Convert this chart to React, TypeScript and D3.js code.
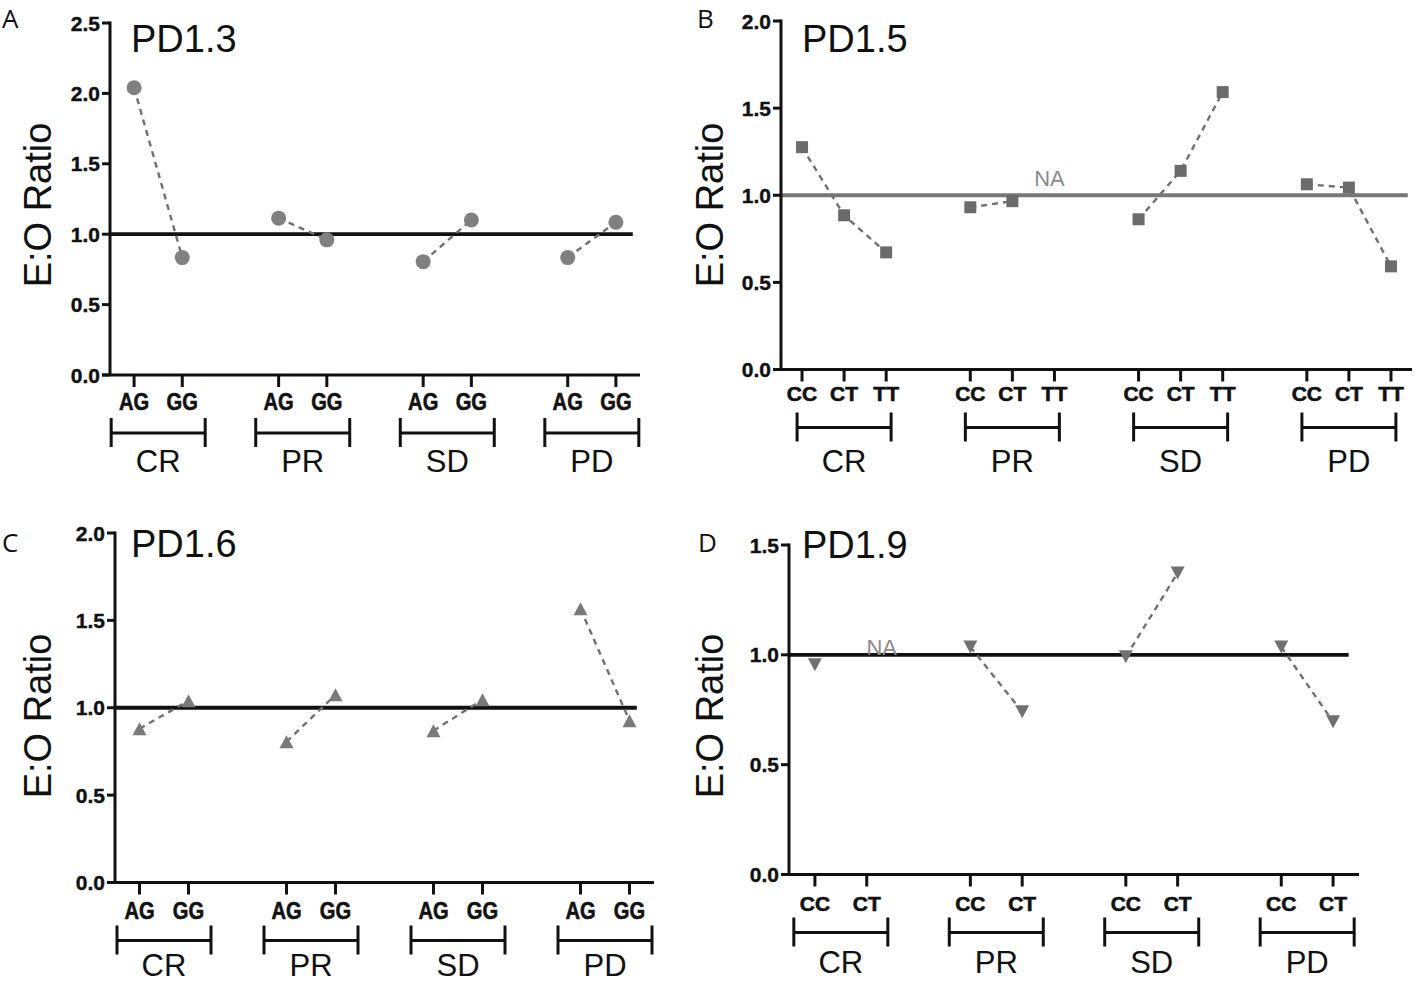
import * as d3 from "d3";

// categories
const groups = ["CR", "PR", "SD", "PD"];
const genotypesAG = ["AG", "GG"];
const genotypesCCT = ["CC", "CT", "TT"];
const genotypesCC = ["CC", "CT"];

// E:O ratio per group (rows) and genotype (columns); null = NA
const pd13Values = [[2.04, 0.834], [1.114, 0.96], [0.805, 1.101], [0.834, 1.085]];
const pd15Values = [[1.276, 0.885, 0.672], [0.931, 0.966, null], [0.862, 1.14, 1.592], [1.063, 1.044, 0.592]];
const pd16Values = [[0.88, 1.04], [0.806, 1.074], [0.869, 1.046], [1.566, 0.926]];
const pd19Values = [[0.955, null], [1.036, 0.741], [0.991, 1.373], [1.036, 0.695]];

// y tick values
const ticksTo25 = [0, 0.5, 1, 1.5, 2, 2.5];
const ticksTo20 = [0, 0.5, 1, 1.5, 2];
const ticksTo15 = [0, 0.5, 1, 1.5];

// NA positions (group index, genotype index)
const naB = [1, 2];
const naD = [0, 1];

type Marker = "circle" | "square" | "triUp" | "triDown";

const PANELS = [
  {
    letter: "A", title: "PD1.3", genotypes: genotypesAG, values: pd13Values, ticks: ticksTo25, marker: "circle" as Marker,
    na: null as number[] | null,
    lay: { left: 110, right: 640, top: 23, bottom: 375, letterX: 2, letterY: 28, titleX: 131, titleY: 52, yLabX: 51, yLabY: 205, refEnd: 10.35, refColor: "#111", naDx: 0, naDy: 0, tickFont: 24, tickSx: 0.84, tickDy: 35, groupDy: 97 },
  },
  {
    letter: "B", title: "PD1.5", genotypes: genotypesCCT, values: pd15Values, ticks: ticksTo20, marker: "square" as Marker,
    na: naB,
    lay: { left: 781, right: 1412, top: 21, bottom: 369.5, letterX: 697, letterY: 28, titleX: 802, titleY: 52, yLabX: 723, yLabY: 205, refEnd: 14.4, refColor: "#777", naDx: -5, naDy: -9, tickFont: 21, tickSx: 1.0, tickDy: 31, groupDy: 102 },
  },
  {
    letter: "C", title: "PD1.6", genotypes: genotypesAG, values: pd16Values, ticks: ticksTo20, marker: "triUp" as Marker,
    na: null as number[] | null,
    lay: { left: 115, right: 654, top: 533, bottom: 882.5, letterX: 2, letterY: 552, titleX: 131, titleY: 557, yLabX: 51, yLabY: 716, refEnd: 10.15, refColor: "#111", naDx: 0, naDy: 0, tickFont: 24, tickSx: 0.84, tickDy: 36, groupDy: 93 },
  },
  {
    letter: "D", title: "PD1.9", genotypes: genotypesCC, values: pd19Values, ticks: ticksTo15, marker: "triDown" as Marker,
    na: naD,
    lay: { left: 789, right: 1359, top: 545, bottom: 874.5, letterX: 698, letterY: 552, titleX: 802, titleY: 558, yLabX: 723, yLabY: 716, refEnd: 10.3, refColor: "#111", naDx: 15, naDy: 0, tickFont: 21, tickSx: 1.0, tickDy: 36, groupDy: 98 },
  },
];

const FONT = '"Liberation Sans", Arial, sans-serif';

const MarkerShape = ({ type, x, y }: { type: Marker; x: number; y: number }) => {
  if (type === "circle") return <circle cx={x} cy={y} r={7.5} fill="#808080" />;
  if (type === "square") return <rect x={x - 6} y={y - 6} width={12} height={12} fill="#6b6b6b" />;
  if (type === "triUp") return <path d={`M${x - 7},${y + 6.5}L${x + 7},${y + 6.5}L${x},${y - 6.5}Z`} fill="#7a7a7a" />;
  return <path d={`M${x - 7},${y - 6.5}L${x + 7},${y - 6.5}L${x},${y + 6.5}Z`} fill="#707070" />;
};

const Panel = ({ p }: { p: (typeof PANELS)[number] }) => {
  const { lay, genotypes, values } = p;
  const n = genotypes.length;
  const lastIdx = (groups.length - 1) * (n + 1) + (n - 1);
  const x = d3.scaleLinear().domain([-0.5, lastIdx + 0.5]).range([lay.left, lay.right]);
  const yMax = p.ticks[p.ticks.length - 1];
  const y = d3.scaleLinear().domain([0, yMax]).range([lay.bottom, lay.top]);
  const idx = (g: number, j: number) => g * (n + 1) + j;

  const line = d3
    .line<{ i: number; v: number | null }>()
    .defined((d) => d.v != null)
    .x((d) => x(d.i))
    .y((d) => y(d.v as number));

  const axisColor = "#111";
  const b = lay.bottom;

  return (
    <g>
      {/* panel letter */}
      <text x={lay.letterX} y={lay.letterY} fontFamily='"Open Sans", sans-serif' fontSize={26} fill="#111">{p.letter}</text>
      {/* title */}
      <text x={lay.titleX} y={lay.titleY} fontFamily={FONT} fontSize={38} fill="#111">{p.title}</text>
      {/* y label */}
      <text transform={`translate(${lay.yLabX},${lay.yLabY}) rotate(-90)`} textAnchor="middle" fontFamily={FONT} fontSize={38} fill="#111">E:O Ratio</text>

      {/* reference line at 1.0 */}
      <line x1={lay.left} x2={x(lay.refEnd)} y1={y(1)} y2={y(1)} stroke={lay.refColor} strokeWidth={3.8} />

      {/* y axis */}
      <line x1={lay.left} x2={lay.left} y1={y(yMax) - 1.5} y2={b} stroke={axisColor} strokeWidth={3} />
      {p.ticks.map((t) => (
        <g key={t}>
          <line x1={lay.left - 8} x2={lay.left} y1={y(t)} y2={y(t)} stroke={axisColor} strokeWidth={3} />
          <text
            x={lay.left - 10}
            y={y(t)}
            dy="0.36em"
            textAnchor="end"
            fontFamily={FONT}
            fontWeight="bold"
            fontSize={21}
            fill="#111"
            stroke="#111"
            strokeWidth={0.4}
          >
            {t.toFixed(1)}
          </text>
        </g>
      ))}

      {/* x axis */}
      <line x1={lay.left - 8} x2={lay.right} y1={b} y2={b} stroke={axisColor} strokeWidth={3} />
      {groups.map((grp, g) => {
        const cx = (x(idx(g, 0)) + x(idx(g, n - 1))) / 2;
        return (
          <g key={grp}>
            {genotypes.map((gt, j) => (
              <g key={gt}>
                <line x1={x(idx(g, j))} x2={x(idx(g, j))} y1={b} y2={b + 12} stroke={axisColor} strokeWidth={3} />
                <text
                  transform={`translate(${x(idx(g, j))},${b + lay.tickDy}) scale(${lay.tickSx},1)`}
                  textAnchor="middle"
                  fontFamily={FONT}
                  fontWeight="bold"
                  fontSize={lay.tickFont}
                  fill="#111"
                  stroke="#111"
                  strokeWidth={0.6}
                >
                  {gt}
                </text>
              </g>
            ))}
            <line x1={cx - 47} x2={cx + 47} y1={b + 58} y2={b + 58} stroke={axisColor} strokeWidth={3} />
            <line x1={cx - 47} x2={cx - 47} y1={b + 43} y2={b + 72} stroke={axisColor} strokeWidth={3} />
            <line x1={cx + 47} x2={cx + 47} y1={b + 43} y2={b + 72} stroke={axisColor} strokeWidth={3} />
            <text x={cx} y={b + lay.groupDy} textAnchor="middle" fontFamily={FONT} fontSize={31} fill="#111">{grp}</text>
          </g>
        );
      })}

      {/* dashed connections within each group */}
      {values.map((row, g) => (
        <path
          key={`l${g}`}
          d={line(row.map((v, j) => ({ i: idx(g, j), v }))) || ""}
          fill="none"
          stroke="#707070"
          strokeWidth={2.4}
          strokeDasharray="6,5"
        />
      ))}

      {/* markers */}
      {values.map((row, g) =>
        row.map((v, j) =>
          v == null ? null : <MarkerShape key={`m${g}-${j}`} type={p.marker} x={x(idx(g, j))} y={y(v)} />
        )
      )}

      {/* NA annotation */}
      {p.na && (
        <text x={x(idx(p.na[0], p.na[1])) + lay.naDx} y={y(1) + lay.naDy} textAnchor="middle" fontFamily={FONT} fontSize={22} fill="#8a8a8a">
          NA
        </text>
      )}
    </g>
  );
};

export default function App() {
  return (
    <svg width={1415} height={983} style={{ position: "absolute", left: 0, top: 0, background: "#fff" }}>
      <rect width={1415} height={983} fill="#fff" />
      {PANELS.map((p) => (
        <Panel key={p.letter} p={p} />
      ))}
    </svg>
  );
}
